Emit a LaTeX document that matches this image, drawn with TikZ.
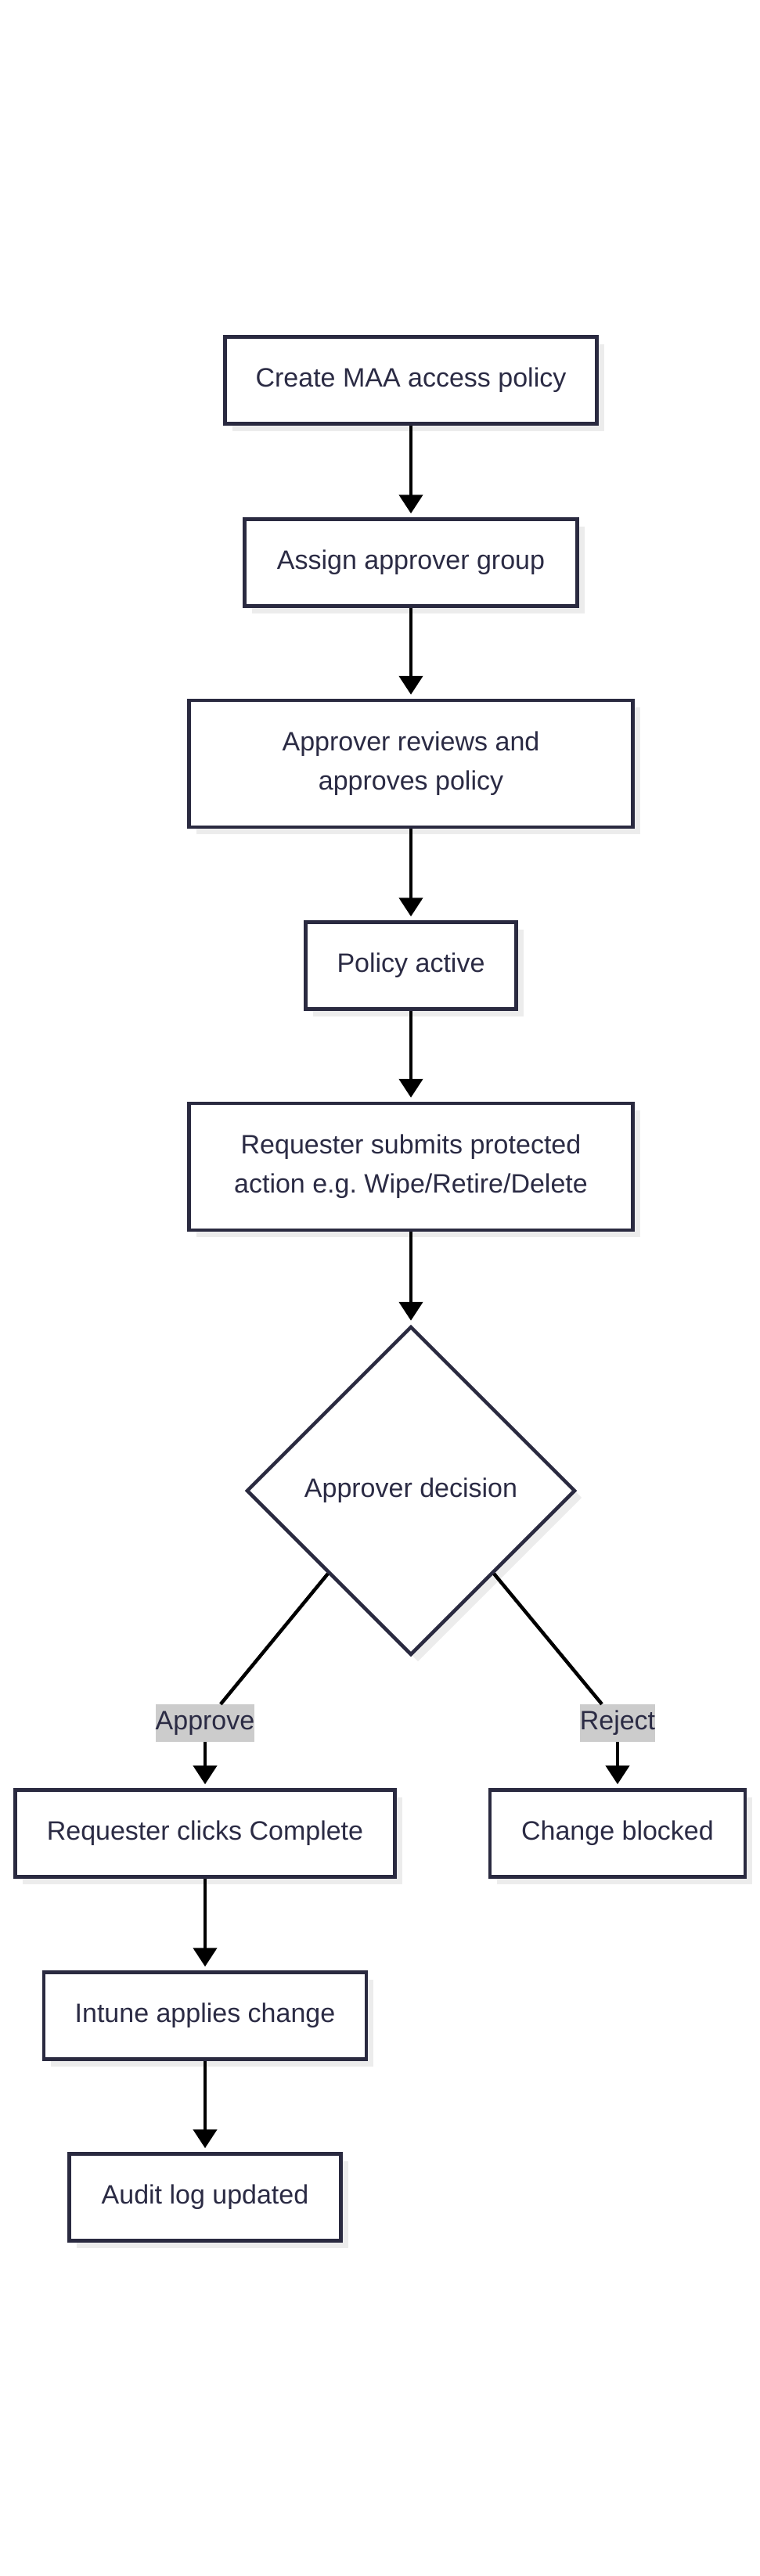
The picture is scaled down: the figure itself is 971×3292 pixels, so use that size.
\documentclass[tikz,border=0pt]{standalone}
\usepackage{fontspec}
\setmainfont{Liberation Sans}
\usetikzlibrary{arrows.meta, positioning, shapes.geometric, shadows}
\definecolor{boxline}{HTML}{2A2A40}
\definecolor{boxtext}{HTML}{2B2B44}
\definecolor{boxfill}{HTML}{FFFFFF}
\definecolor{shadefill}{HTML}{ECECEC}
\definecolor{lblfill}{HTML}{CCCCCC}
\newcommand{\boxfont}{\fontsize{34}{50}\selectfont}
\tikzset{
  stepbox/.style= {rectangle, draw=boxline, fill=boxfill, line width=4.5pt,
                  text=boxtext, align=center, font=\boxfont, minimum height=111pt, inner sep=0pt,
                  drop shadow={shadow xshift=9pt, shadow yshift=-9pt, fill=shadefill, opacity=1}},
  decbox/.style = {diamond, shape aspect=1, draw=boxline, fill=boxfill, line width=4.5pt,
                  text=boxtext, align=center, font=\boxfont, inner sep=0pt,
                  minimum width=420pt, minimum height=420pt,
                  drop shadow={shadow xshift=9pt, shadow yshift=-9pt, fill=shadefill, opacity=1}},
  lbl/.style    = {rectangle, fill=lblfill, text=boxtext, font=\boxfont, inner sep=0pt, minimum height=48pt},
  flow/.style   = {-{Triangle[length=24pt, width=30pt]}, line width=4.5pt, draw=black, shorten >=5pt},
  branch/.style = {line width=4.5pt, draw=black},
}
\begin{document}
\begin{tikzpicture}[x=1pt, y=-1pt]
					\useasboundingbox (0,0) rectangle (971,3292);
					\node[stepbox, minimum width=475pt] (n0) at (525,486) {Create MAA access policy};
					\node[stepbox, minimum width=425pt] (n1) at (525,719) {Assign approver group};
					\node[stepbox, minimum width=567pt, minimum height=162pt] (n2) at (525,976) {Approver reviews and\\approves policy};
					\node[stepbox, minimum width=269pt] (n3) at (525,1234) {Policy active};
					\node[stepbox, minimum width=567pt, minimum height=162pt] (n4) at (525,1491) {Requester submits protected\\action e.g.\ Wipe/Retire/Delete};
					\node[decbox] (n5) at (525,1905) {Approver decision};
					\node[lbl] (l0) at (262,2202) {Approve};
					\node[lbl] (l1) at (789,2202) {Reject};
					\node[stepbox, minimum width=485pt] (n6) at (262,2343) {Requester clicks Complete};
					\node[stepbox, minimum width=326pt] (n7) at (789,2343) {Change blocked};
					\node[stepbox, minimum width=412pt] (n8) at (262,2576) {Intune applies change};
					\node[stepbox, minimum width=347pt] (n9) at (262,2808) {Audit log updated};
					\foreach \a/\b in {0/1,1/2,2/3,3/4,4/5,6/8,8/9}{\draw[flow] (n\a) -- (n\b);}
					\draw[branch] (n5.south west) -- (l0);
					\draw[branch] (n5.south east) -- (l1);
					\draw[flow] (l0) -- (n6);
					\draw[flow] (l1) -- (n7);
				\end{tikzpicture}
\end{document}
